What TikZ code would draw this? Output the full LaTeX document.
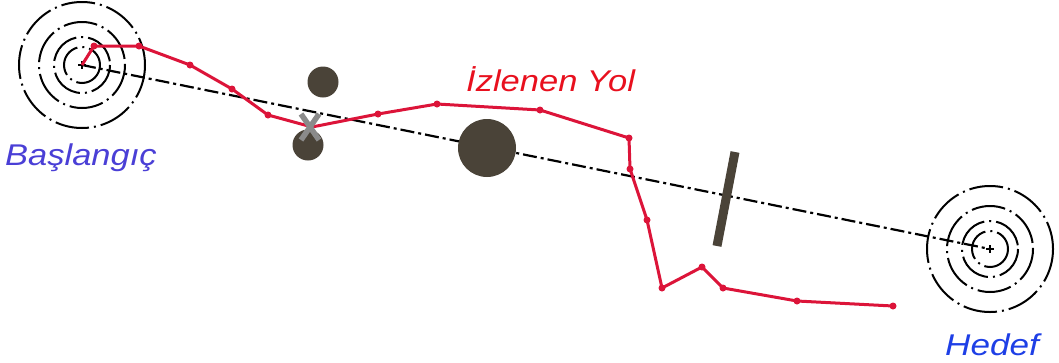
\documentclass[tikz,border=0pt]{standalone}
\usepackage{fontspec}
\setmainfont{Liberation Sans}
\definecolor{obst}{HTML}{4A4338}
\definecolor{pathred}{HTML}{DC1439}
\definecolor{lblred}{HTML}{E8101E}
\definecolor{startblue}{HTML}{4A3FD6}
\definecolor{goalblue}{HTML}{1E3FE6}
\definecolor{xgray}{HTML}{8A8A8A}
\begin{document}
\begin{tikzpicture}[x=1pt,y=-1pt,
  ring/.style={line width=2pt, dash pattern=on 34pt off 5pt on 2pt off 5pt},
  centerline/.style={line width=2.2pt, dash pattern=on 14pt off 4pt on 3pt off 4pt},
  route/.style={pathred, line width=3pt, line join=round},
  wp/.style={circle, fill=pathred, inner sep=0pt, minimum size=7pt},
  obstacle/.style={circle, fill=obst, inner sep=0pt},
  lbl/.style={inner sep=0pt, font=\fontsize{30}{31}\selectfont\itshape}
]
\useasboundingbox (0,0) rectangle (1059,362);
% rings
\coordinate (S) at (82,65);
\coordinate (G) at (990,249);
\foreach \r in {63,43,28,18} {
  \draw[ring] (S) circle (\r);
  \draw[ring] (G) circle (\r);
}
% center crosses
\draw[line width=1.2pt] (78,65) -- (86,65) (82,61) -- (82,69);
\draw[line width=1.2pt] (986,249) -- (994,249) (990,245) -- (990,253);
% straight line
\draw[centerline] (S) -- (G);
% obstacles
\node[obstacle, minimum size=31pt] (o1) at (323,82) {};
\node[obstacle, minimum size=31pt] (o2) at (308,145) {};
\node[obstacle, minimum size=58pt] (o3) at (487,148) {};
\coordinate (b1) at (735,152);
\coordinate (b2) at (717,246);
\draw[obst, line width=9pt] (b1) -- (b2);
% route
\coordinate (p0) at (82,65);
\coordinate (p1) at (94,46);
\coordinate (p2) at (139,46);
\coordinate (p3) at (190,65);
\coordinate (p4) at (232,89);
\coordinate (p5) at (268,115);
\coordinate (p6) at (312,127);
\coordinate (p7) at (378,114);
\coordinate (p8) at (437,104);
\coordinate (p9) at (540,110);
\coordinate (p10) at (629,138);
\coordinate (p11) at (630,169);
\coordinate (p12) at (647,220);
\coordinate (p13) at (662,288);
\coordinate (p14) at (702,267);
\coordinate (p15) at (723,288);
\coordinate (p16) at (797,301);
\coordinate (p17) at (893,306);
\draw[route] (p0) -- (p1) -- (p2) -- (p3) -- (p4) -- (p5) -- (p6) -- (p7) -- (p8) -- (p9) -- (p10) -- (p11) -- (p12) -- (p13) -- (p14) -- (p15) -- (p16) -- (p17);
\foreach \i in {1,2,3,4,5,7,8,9,10,11,12,13,14,15,16,17} {
  \node[wp] (w\i) at (p\i) {};
}
% X mark
\coordinate (xa) at (301,114);
\coordinate (xb) at (319,140);
\coordinate (xc) at (319,114);
\coordinate (xd) at (301,140);
\draw[xgray, line width=5.5pt] (xa) -- (xb) (xc) -- (xd);
% labels
\node[lbl, text=startblue, anchor=base west] (ls) at (5,165) {\scalebox{1.15}[1]{Başlangıç}};
\node[lbl, text=lblred, anchor=base west] (lp) at (466,91) {\scalebox{1.15}[1]{İzlenen Yol}};
\node[lbl, text=goalblue, anchor=base west] (lg) at (945,355) {\scalebox{1.17}[1]{Hedef}};
\end{tikzpicture}
\end{document}
